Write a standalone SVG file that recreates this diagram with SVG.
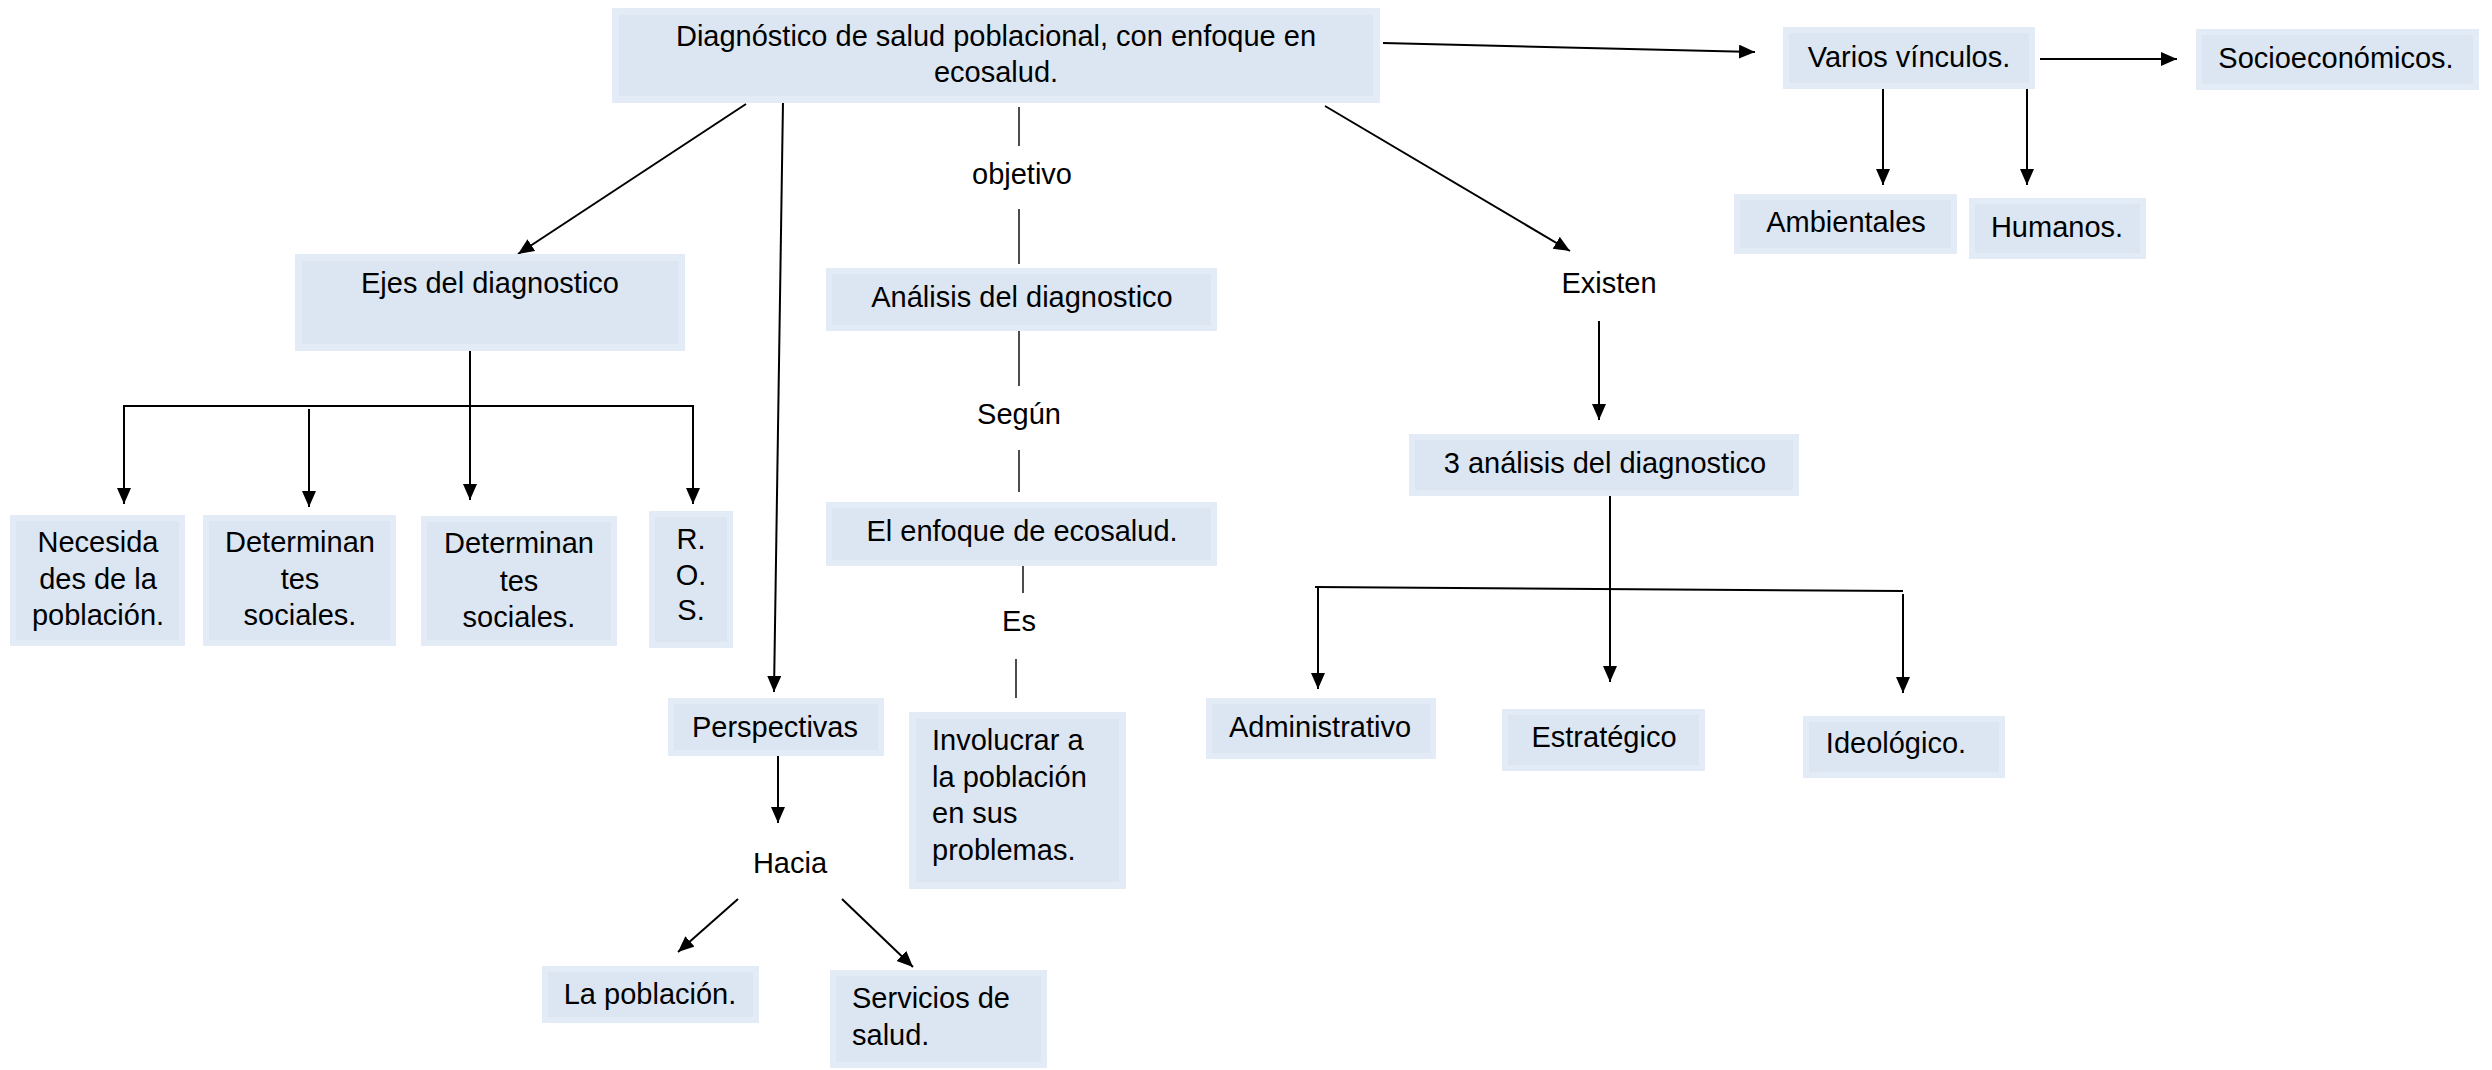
<svg xmlns="http://www.w3.org/2000/svg" width="2492" height="1070" viewBox="0 0 2492 1070">
<defs>
<style>
.o{fill:#e3ebf6}
.i{fill:#dce6f2}
text{font-family:"Liberation Sans",Arial,sans-serif;font-size:29px;fill:#000}
.c{text-anchor:middle}
.a{stroke:#000;stroke-width:2;fill:none;marker-end:url(#ah)}
.l{stroke:#000;stroke-width:2;fill:none}
.t{stroke:#000;stroke-width:1.4;fill:none}
</style>
<marker id="ah" markerUnits="userSpaceOnUse" markerWidth="18" markerHeight="16" refX="16" refY="7" orient="auto">
<path d="M0,0 L16,7 L0,14 z" fill="#000"/>
</marker>
</defs>
<rect width="2492" height="1070" fill="#fff"/>

<g id="connectors">
<line class="a" x1="746" y1="104" x2="518" y2="254"/>
<line class="a" x1="783" y1="101" x2="774" y2="692"/>
<line class="a" x1="1383" y1="43" x2="1755" y2="52"/>
<line class="a" x1="1325" y1="106" x2="1570" y2="251"/>
<line class="a" x1="1599" y1="321" x2="1599" y2="420"/>
<line class="a" x1="2040" y1="59" x2="2177" y2="59"/>
<line class="a" x1="1883" y1="87" x2="1883" y2="185"/>
<line class="a" x1="2027" y1="87" x2="2027" y2="185"/>
<line class="t" x1="1019" y1="107" x2="1019" y2="146"/>
<line class="t" x1="1019" y1="209" x2="1019" y2="264"/>
<line class="t" x1="1019" y1="331" x2="1019" y2="386"/>
<line class="t" x1="1019" y1="450" x2="1019" y2="492"/>
<line class="t" x1="1023" y1="563" x2="1023" y2="593"/>
<line class="t" x1="1016" y1="659" x2="1016" y2="698"/>
<line class="a" x1="470" y1="351" x2="470" y2="500"/>
<line class="l" x1="123" y1="406" x2="694" y2="406"/>
<line class="a" x1="124" y1="406" x2="124" y2="504"/>
<line class="a" x1="309" y1="409" x2="309" y2="507"/>
<line class="a" x1="693" y1="406" x2="693" y2="504"/>
<line class="a" x1="1610" y1="492" x2="1610" y2="682"/>
<line class="l" x1="1315" y1="587" x2="1903" y2="591"/>
<line class="a" x1="1318" y1="587" x2="1318" y2="689"/>
<line class="a" x1="1903" y1="594" x2="1903" y2="693"/>
<line class="a" x1="778" y1="756" x2="778" y2="823"/>
<line class="a" x1="738" y1="899" x2="678" y2="952"/>
<line class="a" x1="842" y1="899" x2="913" y2="967"/>
</g>

<g id="n-main">
<rect class="o" x="612" y="8" width="768" height="95"/>
<rect class="i" x="619" y="15" width="754" height="81"/>
<text class="c" x="996" y="46">Diagnóstico de salud poblacional, con enfoque en</text>
<text class="c" x="996" y="82">ecosalud.</text>
</g>

<g id="n-varios">
<rect class="o" x="1783" y="27" width="252" height="62"/>
<rect class="i" x="1789" y="33" width="240" height="50"/>
<text class="c" x="1909" y="67">Varios vínculos.</text>
</g>

<g id="n-socio">
<rect class="o" x="2196" y="29" width="283" height="61"/>
<rect class="i" x="2202" y="35" width="271" height="49"/>
<text class="c" x="2336" y="68">Socioeconómicos.</text>
</g>

<g id="n-ambientales">
<rect class="o" x="1734" y="194" width="223" height="60"/>
<rect class="i" x="1740" y="200" width="211" height="48"/>
<text class="c" x="1846" y="232">Ambientales</text>
</g>

<g id="n-humanos">
<rect class="o" x="1969" y="198" width="177" height="61"/>
<rect class="i" x="1975" y="204" width="165" height="49"/>
<text class="c" x="2057" y="237">Humanos.</text>
</g>

<g id="n-existen">
<text class="c" x="1609" y="293">Existen</text>
</g>

<g id="n-3analisis">
<rect class="o" x="1409" y="434" width="390" height="62"/>
<rect class="i" x="1415" y="440" width="378" height="50"/>
<text class="c" x="1605" y="473">3 análisis del diagnostico</text>
</g>

<g id="n-administrativo">
<rect class="o" x="1206" y="698" width="230" height="61"/>
<rect class="i" x="1212" y="704" width="218" height="49"/>
<text class="c" x="1320" y="737">Administrativo</text>
</g>

<g id="n-estrategico">
<rect class="o" x="1502" y="709" width="203" height="62"/>
<rect class="i" x="1508" y="715" width="191" height="50"/>
<text class="c" x="1604" y="747">Estratégico</text>
</g>

<g id="n-ideologico">
<rect class="o" x="1803" y="716" width="202" height="62"/>
<rect class="i" x="1809" y="722" width="190" height="50"/>
<text class="c" x="1896" y="753">Ideológico.</text>
</g>

<g id="n-ejes">
<rect class="o" x="295" y="254" width="390" height="97"/>
<rect class="i" x="302" y="261" width="376" height="83"/>
<text class="c" x="490" y="293">Ejes del diagnostico</text>
</g>

<g id="n-objetivo">
<text class="c" x="1022" y="184">objetivo</text>
</g>

<g id="n-analisis">
<rect class="o" x="826" y="268" width="391" height="63"/>
<rect class="i" x="832" y="274" width="379" height="51"/>
<text class="c" x="1022" y="307">Análisis del diagnostico</text>
</g>

<g id="n-segun">
<text class="c" x="1019" y="424">Según</text>
</g>

<g id="n-enfoque">
<rect class="o" x="826" y="502" width="391" height="64"/>
<rect class="i" x="832" y="508" width="379" height="52"/>
<text class="c" x="1022" y="541">El enfoque de ecosalud.</text>
</g>

<g id="n-es">
<text class="c" x="1019" y="631">Es</text>
</g>

<g id="n-involucrar">
<rect class="o" x="909" y="712" width="217" height="177"/>
<rect class="i" x="916" y="719" width="203" height="163"/>
<text x="932" y="750">Involucrar a</text>
<text x="932" y="787">la población</text>
<text x="932" y="823">en sus</text>
<text x="932" y="860">problemas.</text>
</g>

<g id="n-perspectivas">
<rect class="o" x="668" y="698" width="216" height="58"/>
<rect class="i" x="674" y="704" width="204" height="46"/>
<text class="c" x="775" y="737">Perspectivas</text>
</g>

<g id="n-hacia">
<text class="c" x="790" y="873">Hacia</text>
</g>

<g id="n-lapoblacion">
<rect class="o" x="542" y="966" width="217" height="57"/>
<rect class="i" x="548" y="972" width="205" height="45"/>
<text class="c" x="650" y="1004">La población.</text>
</g>

<g id="n-servicios">
<rect class="o" x="830" y="970" width="217" height="98"/>
<rect class="i" x="836" y="976" width="205" height="86"/>
<text x="852" y="1008">Servicios de</text>
<text x="852" y="1045">salud.</text>
</g>

<g id="n-necesidades">
<rect class="o" x="10" y="515" width="175" height="131"/>
<rect class="i" x="16" y="521" width="163" height="119"/>
<text class="c" x="98" y="552">Necesida</text>
<text class="c" x="98" y="589">des de la</text>
<text class="c" x="98" y="625">población.</text>
</g>

<g id="n-determinantes1">
<rect class="o" x="203" y="515" width="193" height="131"/>
<rect class="i" x="209" y="521" width="181" height="119"/>
<text class="c" x="300" y="552">Determinan</text>
<text class="c" x="300" y="589">tes</text>
<text class="c" x="300" y="625">sociales.</text>
</g>

<g id="n-determinantes2">
<rect class="o" x="421" y="516" width="196" height="130"/>
<rect class="i" x="427" y="522" width="184" height="118"/>
<text class="c" x="519" y="553">Determinan</text>
<text class="c" x="519" y="591">tes</text>
<text class="c" x="519" y="627">sociales.</text>
</g>

<g id="n-ros">
<rect class="o" x="649" y="511" width="84" height="137"/>
<rect class="i" x="655" y="517" width="72" height="125"/>
<text class="c" x="691" y="549">R.</text>
<text class="c" x="691" y="585">O.</text>
<text class="c" x="691" y="620">S.</text>
</g>
</svg>
